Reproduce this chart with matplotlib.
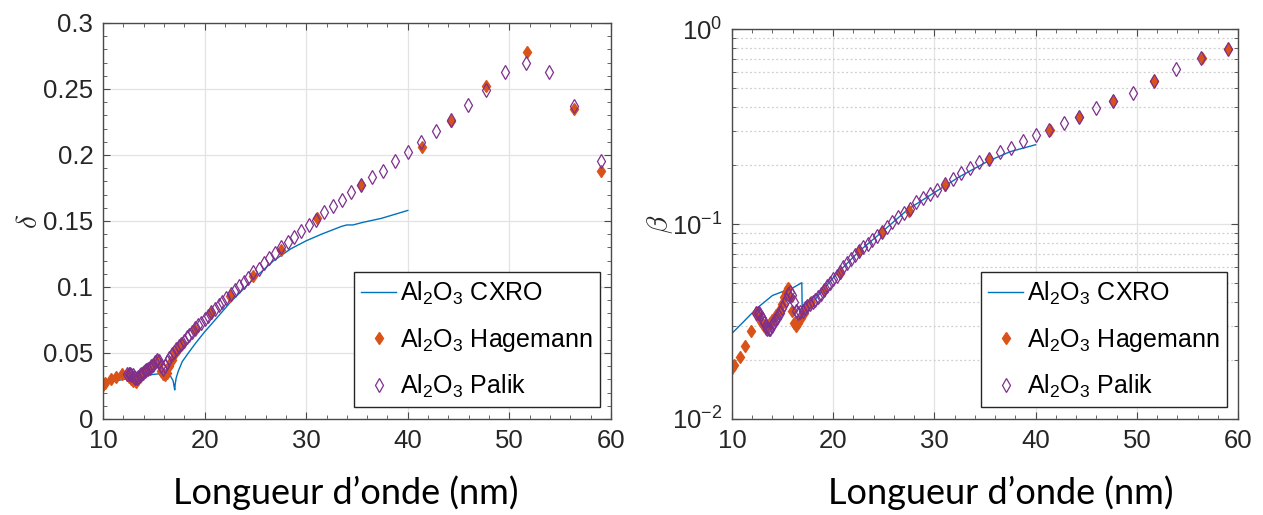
import matplotlib
matplotlib.use("Agg")
import matplotlib.pyplot as plt
from matplotlib.ticker import MultipleLocator, LogLocator, NullFormatter

# DATA
# CXRO curves
cxro_x_delta = [10.0, 11.0, 12.0, 12.7, 14.0, 15.2, 16.2, 16.6, 16.9, 17.06, 17.1, 17.2, 17.4,
                17.8, 18.4, 19.07, 20.0, 20.8, 22.6, 24.8, 26.8, 28.5, 30.0, 31.5, 32.5,
                33.5, 34.0, 34.6, 35.6, 37.4, 40.0]
cxro_delta = [0.0265, 0.0285, 0.030, 0.031, 0.033, 0.034, 0.0346, 0.033, 0.029, 0.022, 0.026,
              0.031, 0.036, 0.0435, 0.050, 0.057, 0.066, 0.073, 0.089, 0.106, 0.120, 0.129,
              0.135, 0.140, 0.143, 0.146, 0.147, 0.147, 0.149, 0.152, 0.158]

cxro_x_beta = [10.0, 11.0, 12.0, 12.6, 13.0, 14.0, 14.5, 15.0, 15.5, 16.0, 16.9, 16.95, 17.5,
               18.2, 19.0, 20.0, 21.0, 22.5, 24.7, 27.4, 30.0, 32.5, 35.3, 37.5, 40.0]
cxro_beta = [0.0275, 0.031, 0.035, 0.0375, 0.039, 0.043, 0.044, 0.045, 0.046, 0.047, 0.050,
             0.032, 0.036, 0.041, 0.046, 0.053, 0.060, 0.072, 0.090, 0.119, 0.145, 0.175,
             0.210, 0.235, 0.255]

# Hagemann
hag_x = [10.0, 10.15, 10.75, 11.25, 11.85, 12.4, 12.6, 12.8, 13.0, 13.2, 13.4, 13.6, 13.8,
         14.0, 14.3, 14.6, 14.9, 15.1, 15.3, 15.5, 15.7, 15.9, 16.1, 16.3, 16.5, 16.8, 17.1,
         17.4, 17.8, 19.07, 20.66, 22.5, 24.8, 27.5, 31.07, 35.4, 41.4, 44.3, 47.65, 51.7,
         56.4, 59.0]
hag_delta = [0.026, 0.027, 0.030, 0.032, 0.034, 0.033, 0.032, 0.030, 0.029, 0.028, 0.030,
             0.032, 0.034, 0.036, 0.038, 0.039, 0.041, 0.043, 0.045, 0.042, 0.036, 0.034,
             0.033, 0.035, 0.040, 0.045, 0.050, 0.053, 0.057, 0.0675, 0.080, 0.0935, 0.108,
             0.128, 0.152, 0.177, 0.206, 0.226, 0.252, 0.278, 0.235, 0.188]
hag_beta = [0.0183, 0.019, 0.0207, 0.0237, 0.0283, 0.035, 0.034, 0.032, 0.031, 0.030, 0.029,
            0.030, 0.031, 0.032, 0.034, 0.036, 0.039, 0.042, 0.045, 0.047, 0.042, 0.036,
            0.031, 0.030, 0.031, 0.033, 0.035, 0.038, 0.040, 0.0459, 0.0564, 0.0731, 0.0908,
            0.117, 0.158, 0.216, 0.304, 0.353, 0.426, 0.543, 0.71, 0.789]

# Palik
pal_x = [12.40, 12.53, 12.65, 12.78, 12.92, 13.05, 13.19, 13.33, 13.48, 13.62, 13.78, 13.93,
         14.09, 14.25, 14.42, 14.59, 14.76, 14.94, 15.12, 15.31, 15.50, 15.70, 15.90, 16.10,
         16.32, 16.53, 16.76, 16.98, 17.22, 17.46, 17.71, 17.97, 18.24, 18.51, 18.79, 19.08,
         19.38, 19.68, 20.00, 20.33, 20.67, 21.01, 21.38, 21.75, 22.14, 22.55, 22.96, 23.40,
         23.85, 24.31, 24.80, 25.31, 25.83, 26.38, 26.96, 27.56, 28.18, 28.84, 29.52, 30.24,
         31.00, 31.79, 32.63, 33.51, 34.44, 35.43, 36.47, 37.58, 38.75, 40.00, 41.33, 42.76,
         44.29, 45.93, 47.69, 49.60, 51.67, 53.91, 56.36, 59.05]
pal_delta = [0.034, 0.034, 0.034, 0.033, 0.033, 0.032, 0.031, 0.031, 0.032, 0.033, 0.034,
             0.035, 0.036, 0.037, 0.038, 0.039, 0.040, 0.041, 0.043, 0.045, 0.044, 0.040,
             0.038, 0.040, 0.043, 0.046, 0.049, 0.051, 0.053, 0.055, 0.057, 0.059, 0.062,
             0.064, 0.066, 0.069, 0.071, 0.073, 0.076, 0.078, 0.081, 0.083, 0.086, 0.089,
             0.092, 0.095, 0.098, 0.101, 0.104, 0.107, 0.111, 0.114, 0.118, 0.122, 0.126,
             0.130, 0.134, 0.138, 0.1425, 0.147, 0.151, 0.1565, 0.1615, 0.166, 0.172, 0.177,
             0.183, 0.188, 0.1956, 0.202, 0.2095, 0.218, 0.2267, 0.238, 0.249, 0.263, 0.270,
             0.263, 0.237, 0.1956]
pal_beta = [0.035, 0.035, 0.035, 0.034, 0.033, 0.032, 0.031, 0.030, 0.029, 0.029, 0.029,
            0.030, 0.031, 0.032, 0.033, 0.034, 0.035, 0.037, 0.039, 0.041, 0.044, 0.045,
            0.043, 0.040, 0.036, 0.035, 0.0355, 0.036, 0.037, 0.038, 0.039, 0.040, 0.041,
            0.042, 0.044, 0.046, 0.048, 0.050, 0.052, 0.054, 0.057, 0.060, 0.063, 0.066,
            0.069, 0.073, 0.076, 0.079, 0.083, 0.087, 0.091, 0.096, 0.102, 0.108, 0.114,
            0.120, 0.130, 0.136, 0.143, 0.150, 0.160, 0.170, 0.182, 0.194, 0.207, 0.216,
            0.233, 0.245, 0.265, 0.287, 0.304, 0.330, 0.353, 0.394, 0.426, 0.470, 0.543,
            0.624, 0.710, 0.789]

labels = ["Al$_2$O$_3$ CXRO", "Al$_2$O$_3$ Hagemann", "Al$_2$O$_3$ Palik"]
xlabel = "Longueur d\u2019onde (nm)"

# STYLE
plt.rcParams["font.family"] = ["Liberation Sans", "DejaVu Sans"]
plt.rcParams["mathtext.fontset"] = "custom"
plt.rcParams["mathtext.rm"] = "Liberation Sans"
plt.rcParams["mathtext.it"] = "Liberation Sans:italic"
plt.rcParams["mathtext.bf"] = "Liberation Sans:bold"

c_cxro = "#0072BD"
c_hag = "#D95319"
c_pal = "#7E2F8E"
axcol = "#4a4a4a"
txtcol = "#262626"

fig = plt.figure(figsize=(12.63, 5.15), dpi=100)
ax1 = fig.add_axes([103 / 1263, 96 / 515, 508 / 1263, 396 / 515])
ax2 = fig.add_axes([732 / 1263, 96 / 515, 506 / 1263, 390 / 515])


def draw(ax, cx, cy, hy, py):
    l1, = ax.plot(cx, cy, color=c_cxro, lw=1.0)
    l2, = ax.plot(hag_x, hy, ls="none", marker="d", ms=6.5, color=c_hag, mec=c_hag)
    l3, = ax.plot(pal_x, py, ls="none", marker="d", ms=7.5, mfc="none", mec=c_pal, mew=0.9)
    return [l1, l2, l3]


h1 = draw(ax1, cxro_x_delta, cxro_delta, hag_delta, pal_delta)
h2 = draw(ax2, cxro_x_beta, cxro_beta, hag_beta, pal_beta)

# left axes
ax1.set_xlim(10, 60)
ax1.set_ylim(0, 0.3)
ax1.xaxis.set_major_locator(MultipleLocator(10))
ax1.xaxis.set_minor_locator(MultipleLocator(2))
ax1.yaxis.set_minor_locator(MultipleLocator(0.01))
ax1.set_yticks([0, 0.05, 0.1, 0.15, 0.2, 0.25, 0.3])
ax1.set_yticklabels(["0", "0.05", "0.1", "0.15", "0.2", "0.25", "0.3"])
ax1.grid(True, which="major", color="#e3e3e3", lw=0.9)
ax1.set_ylabel("$\\delta$", math_fontfamily="cm", fontsize=21, color=txtcol, labelpad=0)

# right axes
ax2.set_yscale("log")
ax2.set_xlim(10, 60)
ax2.set_ylim(0.01, 1)
ax2.xaxis.set_major_locator(MultipleLocator(10))
ax2.xaxis.set_minor_locator(MultipleLocator(2))
ax2.yaxis.set_major_locator(LogLocator(base=10, numticks=5))
ax2.yaxis.set_minor_locator(LogLocator(base=10, subs=range(2, 10), numticks=20))
ax2.yaxis.set_minor_formatter(NullFormatter())
ax2.grid(True, which="major", color="#e3e3e3", lw=0.9)
ax2.grid(True, which="minor", axis="y", color="#cfcfcf", lw=0.9, ls=(0, (1.5, 2)))
ax2.set_ylabel("$\\beta$", math_fontfamily="cm", fontsize=21, color=txtcol, labelpad=-2)

for ax, h in ((ax1, h1), (ax2, h2)):
    ax.set_axisbelow(True)
    for s in ax.spines.values():
        s.set_color(axcol)
        s.set_linewidth(1.0)
    ax.tick_params(which="both", direction="in", top=True, right=True, color=axcol,
                   labelcolor=txtcol, labelsize=18.5)
    ax.tick_params(which="major", length=5, pad=7)
    ax.tick_params(which="minor", length=3)
    leg = ax.legend(h, labels, loc="lower right", bbox_to_anchor=(0.979, 0.03),
                    borderaxespad=0, fontsize=18, fancybox=False, framealpha=1,
                    edgecolor=txtcol, handlelength=1.4, handletextpad=0.15,
                    labelspacing=0.75, borderpad=0.3)
    leg.get_frame().set_linewidth(1.0)
    for t in leg.get_texts():
        t.set_color("black")

fig.text(346 / 1263, 1 - 493 / 515, xlabel, family=["Lato", "DejaVu Sans"], fontsize=26,
         ha="center", va="center", color="black")
fig.text(1001 / 1263, 1 - 493 / 515, xlabel, family=["Lato", "DejaVu Sans"], fontsize=26,
         ha="center", va="center", color="black")

fig.savefig("out.png", dpi=100, facecolor="white")
